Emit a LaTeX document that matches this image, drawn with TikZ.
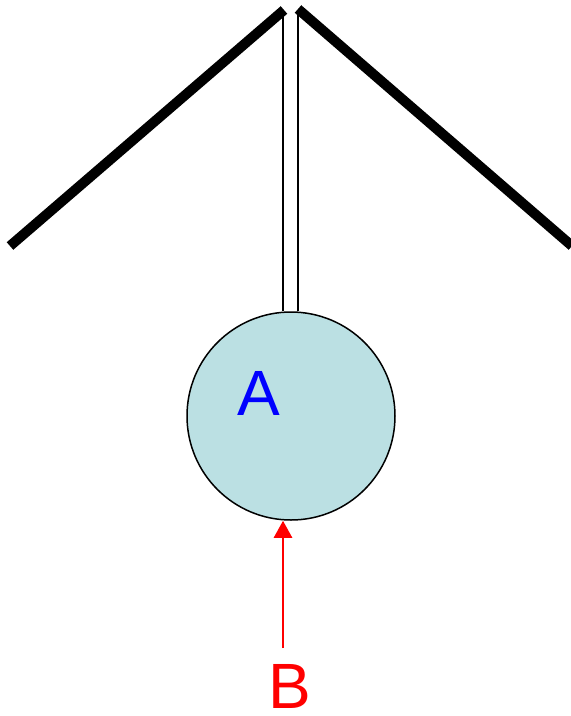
\documentclass[tikz,border=0pt]{standalone}
\usepackage{fontspec}
\setmainfont{Liberation Sans}
\usetikzlibrary{arrows.meta}
\definecolor{ballfill}{RGB}{187,224,227}
\tikzset{
  thickbar/.style={line width=10pt},
  thread/.style={line width=1.5pt},
  bigtext/.style={font=\fontsize{64}{64}\selectfont, inner sep=0pt},
}
\begin{document}
\begin{tikzpicture}[x=1pt,y=-1pt]
\useasboundingbox (0,0) rectangle (571,716);
\coordinate (L1) at (10,246);
\coordinate (L2) at (284,10);
\coordinate (R1) at (298,9);
\coordinate (R2) at (572,246);
\draw[thickbar] (L1) -- (L2);
\draw[thickbar] (R1) -- (R2);
\node[circle, draw, line width=1.5pt, fill=ballfill, minimum size=208pt, inner sep=0pt] (ball) at (291,416) {};
\coordinate (t1) at (283,11);
\coordinate (t2) at (298,11);
\draw[thread] (t1) -- (t1 |- ball.north);
\draw[thread] (t2) -- (t2 |- ball.north);
\node[bigtext, text=blue] (A) at (259,393) {A};
\node[bigtext, text=red] (B) at (290,686) {B};
\coordinate (bs) at (283,648);
\draw[red, line width=2.5pt, -{Triangle[length=17pt,width=18pt]}] (bs) -- (bs |- ball.south);
\end{tikzpicture}
\end{document}
